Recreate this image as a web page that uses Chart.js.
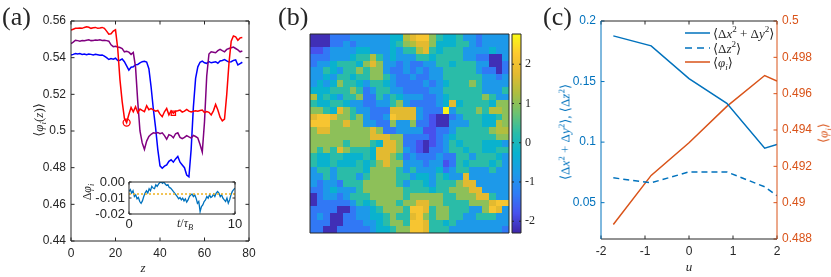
<!DOCTYPE html>
<html>
<head>
<meta charset="utf-8">
<script src="https://cdn.jsdelivr.net/npm/chart.js@4.4.1/dist/chart.umd.min.js"></script>
<style>
  body { margin: 0; background: #fff; }
  #fig { position: relative; width: 831px; height: 277px; overflow: hidden; font-family: "Liberation Serif", "DejaVu Serif", serif; color: #262626; }
  canvas { position: absolute; }
  .txt { position: absolute; white-space: nowrap; line-height: 1; }
  .rot { transform: translate(-50%, -50%) rotate(-90deg); }
  .mid { transform: translate(-50%, -50%); }
  .leg { transform: translateY(-50%); font-size: 13px; }
  .panel { font-size: 26px; }
  sub, sup { font-size: 70%; line-height: 0; }
</style>
</head>
<body>
<div id="fig">
  <canvas id="chartA" width="262" height="277" style="left:0;top:0"></canvas>
  <canvas id="inset" width="160" height="60" style="left:85px;top:176px"></canvas>
  <canvas id="heat" width="201" height="201" style="left:309px;top:33px"></canvas>
  <canvas id="cbar" width="44" height="207" style="left:508px;top:30px"></canvas>
  <canvas id="chartC" width="271" height="277" style="left:560px;top:0"></canvas>

  <div class="txt panel" style="left:2px;top:4px">(a)</div>
  <div class="txt panel" style="left:278px;top:4px">(b)</div>
  <div class="txt panel" style="left:543px;top:4px">(c)</div>

  <div class="txt mid" style="left:143px;top:267px;font-size:13px"><i>z</i></div>
  <div class="txt rot" style="left:38px;top:120px;font-size:13px">⟨<i>φ</i><sub><i>i</i></sub>(<i>z</i>)⟩</div>
  <div class="txt rot" style="left:87px;top:192px;font-size:12px">Δ<i>φ</i><sub><i>i</i></sub></div>
  <div class="txt mid" style="left:185px;top:223px;font-size:12px"><i>t</i>/<i>τ</i><sub><i>B</i></sub></div>

  <div class="txt mid" style="left:689px;top:266px;font-size:13px"><i>u</i></div>
  <div class="txt rot" style="left:565px;top:132px;font-size:13px;color:#0072BD">⟨Δ<i>x</i><sup>2</sup> + Δ<i>y</i><sup>2</sup>⟩, ⟨Δ<i>z</i><sup>2</sup>⟩</div>
  <div class="txt rot" style="left:823px;top:133px;font-size:13px;color:#D95319">⟨<i>φ</i><sub><i>i</i></sub>⟩</div>

  <svg style="position:absolute;left:685px;top:26px" width="26" height="42">
    <line x1="0" y1="7" x2="25" y2="7" stroke="#0072BD" stroke-width="1.5"/>
    <line x1="0" y1="22" x2="25" y2="22" stroke="#0072BD" stroke-width="1.5" stroke-dasharray="7,5"/>
    <line x1="0" y1="36" x2="25" y2="36" stroke="#D95319" stroke-width="1.5"/>
  </svg>
  <div class="txt leg" style="left:713px;top:33px">⟨Δ<i>x</i><sup>2</sup> + Δ<i>y</i><sup>2</sup>⟩</div>
  <div class="txt leg" style="left:713px;top:48px">⟨Δ<i>z</i><sup>2</sup>⟩</div>
  <div class="txt leg" style="left:713px;top:62px">⟨<i>φ</i><sub><i>i</i></sub>⟩</div>
</div>

<script>
// ---- panel (a): <phi_i(z)> profiles, one value per unit of z
const zPos = Array.from({ length: 78 }, (_, i) => i);
const redPhi = [
  0.555, 0.5555, 0.556, 0.556, 0.5562, 0.556, 0.5565, 0.5568, 0.5566, 0.556,
  0.5563, 0.5565, 0.556, 0.5562, 0.5565, 0.556, 0.5545, 0.5528, 0.553, 0.5545,
  0.5552, 0.545, 0.528, 0.516, 0.507, 0.5046, 0.509, 0.5128, 0.5105, 0.5132,
  0.51, 0.512, 0.5112, 0.5105, 0.5138, 0.5116, 0.5122, 0.5115, 0.5108, 0.5112,
  0.5092, 0.5078, 0.5105, 0.5123, 0.5088, 0.511, 0.5097, 0.5108, 0.511, 0.5114,
  0.5103, 0.5108, 0.5118, 0.5108, 0.5104, 0.5108, 0.511, 0.5108, 0.5112, 0.5114,
  0.51, 0.5106, 0.5102, 0.5088, 0.511, 0.5145, 0.5115, 0.5075, 0.5055, 0.5065,
  0.52, 0.537, 0.549, 0.5518, 0.5514, 0.5495, 0.5508, 0.551
];
const purplePhi = [
  0.5476, 0.5485, 0.5495, 0.5493, 0.549, 0.5494, 0.5492, 0.5495, 0.5497, 0.5493,
  0.5494, 0.5496, 0.5495, 0.5497, 0.5494, 0.5495, 0.5493, 0.549, 0.547, 0.546,
  0.5462, 0.5458, 0.5455, 0.545, 0.5432, 0.5435, 0.543, 0.5418, 0.5428, 0.535,
  0.516, 0.5, 0.4935, 0.49, 0.4945, 0.497, 0.4982, 0.499, 0.4988, 0.4992,
  0.4985, 0.499, 0.4975, 0.4955, 0.498, 0.4975, 0.4963, 0.4985, 0.499, 0.4965,
  0.4958, 0.4965, 0.4975, 0.4968, 0.4962, 0.4976, 0.497, 0.4962, 0.4926, 0.4885,
  0.505, 0.53, 0.542, 0.5432, 0.543, 0.5427, 0.5438, 0.5445, 0.5438, 0.5432,
  0.5445, 0.545, 0.5454, 0.5458, 0.545, 0.5442, 0.5432, 0.5436
];
const bluePhi = [
  0.5414, 0.5418, 0.5423, 0.542, 0.5422, 0.5418, 0.542, 0.5416, 0.542, 0.5418,
  0.5415, 0.5418, 0.5416, 0.5413, 0.5415, 0.5408, 0.54, 0.539, 0.5395, 0.5392,
  0.5397, 0.5385, 0.5386, 0.5393, 0.5378, 0.5355, 0.5332, 0.5348, 0.535, 0.5362,
  0.5363, 0.5372, 0.5378, 0.538, 0.5376, 0.534, 0.524, 0.512, 0.502, 0.49,
  0.481, 0.4797, 0.4808, 0.4815, 0.4835, 0.4843, 0.483, 0.4848, 0.4861, 0.483,
  0.4815, 0.48, 0.476, 0.475, 0.49, 0.513, 0.5287, 0.535, 0.5375, 0.5381,
  0.5372, 0.5369, 0.5378, 0.5372, 0.5375, 0.5378, 0.537, 0.5382, 0.5385, 0.539,
  0.5382, 0.5376, 0.5378, 0.5385, 0.5388, 0.536, 0.5368, 0.5375
];
const circleMark = [{ x: 25, y: 0.5046 }];
const squareMark = [{ x: 46, y: 0.5097 }];
const zTicks = [0, 20, 40, 60, 80];
const phiTicks = [0.44, 0.46, 0.48, 0.5, 0.52, 0.54, 0.56];

// ---- inset: delta phi_i over t / tau_B
const insetDphi = [
  -0.0059, -0.0048, -0.0069, -0.0055, -0.0091, -0.0080, -0.0105, -0.0097, -0.0122, -0.0133,
  -0.0118, -0.0091, -0.0069, -0.0055, -0.0069, -0.0042, -0.0055, -0.0027, -0.0038, -0.0042,
  -0.0017, -0.0027, -0.0013, -0.0004, 0.0, -0.0008, 0.0, -0.0013, -0.0021, -0.0017,
  -0.0034, -0.0038, -0.0048, -0.0059, -0.0069, -0.0080, -0.0091, -0.0105, -0.0097, -0.0112,
  -0.0101, -0.0118, -0.0105, -0.0126, -0.0112, -0.0091, -0.0080, -0.0076, -0.0091, -0.0080,
  -0.0101, -0.0133, -0.0122, -0.0185, -0.0154, -0.0143, -0.0122, -0.0112, -0.0091, -0.0101,
  -0.0080, -0.0097, -0.0091, -0.0076, -0.0091, -0.0069, -0.0059, -0.0069, -0.0091, -0.0080,
  -0.0101, -0.0112, -0.0122, -0.0101, -0.0133, -0.0112, -0.0080, -0.0059, -0.0048, -0.0038
];
const insetT = insetDphi.map((_, i) => i * 10 / (insetDphi.length - 1));
const insetMean = -0.0075;
const insetTTicks = [0, 10];
const insetYTicks = [-0.02, -0.01, 0];

// ---- panel (b): 30 x 30 field, one character per cell (key in levelValues)
const levelValues = { '0': -2.2, '1': -1.8, '2': -1.35, '3': -0.8, '4': -0.25, '5': 0.25,
  '6': 1.0, '7': 1.3, '8': 1.75, '9': 2.15, 'Y': 2.7 };
const heatRows = [
  '000222333333447899654453323333',
  '000223233333456788644455323333',
  '112333344333435578545553333433',
  '222333455753433355455553322003',
  '233455546863323223355455533002',
  '335435565663223232335555532202',
  '334355455665322322335555553323',
  '343465543554322223234555653333',
  '444555652355332222335555553335',
  '745435562253543332234555556533',
  '544554332233563222234845555466',
  '66548653322288883222Y355565776',
  '899866563223988832100235554456',
  '999668663322633622100333554476',
  '688666666862233331122355555677',
  '666666666888662222123455555566',
  '666665666548862210123545554443',
  '656586555488863210223554554455',
  '544554445488652322232255355543',
  '544544454568663332331254555453',
  '355355554666653533342355333533',
  '335355535666655344354338333333',
  '323325556666653554355568833333',
  '223433356666665555455666883333',
  '023323555666665666665566688533',
  '022222354566656688665555666899',
  '222200233456665998566555336983',
  '232002233445655896566553355533',
  '222002223345665998554533333333',
  '220022222344566998555333333332'
];
const cbarMin = -2.3, cbarMax = 2.77;
const cbarTicks = [-2, -1, 0, 1, 2];

// ---- panel (c)
const uVals = [-1.72, -0.86, 0, 0.86, 1.72, 2];
const msdXY = [0.1877, 0.1795, 0.1525, 0.132, 0.095, 0.098];
const msdZ = [0.0705, 0.0664, 0.0754, 0.0754, 0.0631, 0.0557];
const phiMean = [0.4888, 0.4915, 0.4933, 0.4953, 0.497, 0.4967];
const uTicks = [-2, -1, 0, 1, 2];
const msdTicks = [0.05, 0.1, 0.15, 0.2];
const phiMeanTicks = [0.488, 0.49, 0.492, 0.494, 0.496, 0.498, 0.5];

// ---------------------------------------------------------------
const GRAY = '#262626';
const BLUE = '#0072BD';
const ORANGE = '#D95319';
const sansFont = { family: "'Liberation Sans', Arial, sans-serif", size: 12 };
const insetFont = { family: sansFont.family, size: 13 };
const serifFont = { family: "'Liberation Serif', 'Times New Roman', serif", size: 12 };
Chart.defaults.font.family = sansFont.family;

const pairs = (xs, ys) => xs.map((x, i) => ({ x, y: ys[i] }));
const fixTicks = vals => s => { s.ticks = vals.map(v => ({ value: v })); };
const fitBox = size => s => {
  if (s.isHorizontal()) s.height = size; else s.width = size;
  s.paddingLeft = s.paddingRight = s.paddingTop = s.paddingBottom = 0;
};
const noGrid = { display: false, drawTicks: false };
const noBorder = { display: false };
const tickOpts = (font, color, padding, extra) =>
  ({ font, color, padding, autoSkip: false, maxRotation: 0, ...extra });

const parulaStops = [[62, 38, 168], [71, 82, 238], [46, 126, 246], [28, 154, 232], [8, 178, 208],
  [40, 188, 170], [108, 194, 114], [172, 190, 64], [228, 186, 48], [253, 200, 49], [249, 251, 21]];
function parula(t) {
  t = Math.min(1, Math.max(0, t)) * (parulaStops.length - 1);
  const i = Math.min(Math.floor(t), parulaStops.length - 2), f = t - i;
  const a = parulaStops[i], b = parulaStops[i + 1];
  return 'rgb(' + a.map((c, k) => Math.round(c + (b[k] - c) * f)).join(',') + ')';
}

// box around the axes plus inward tick marks, MATLAB style
const frame = {
  id: 'frame',
  afterDatasetsDraw(chart, args, o) {
    if (!o.edges) return;
    const { ctx, chartArea: a } = chart;
    const len = o.len || 3.5;
    ctx.save();
    ctx.lineWidth = 1;
    (o.ticks || []).forEach(t => {
      const s = chart.scales[t.scale];
      ctx.strokeStyle = t.color;
      ctx.beginPath();
      s.ticks.forEach(k => {
        const p = s.getPixelForValue(k.value);
        if (s.isHorizontal()) {
          ctx.moveTo(p, a.bottom); ctx.lineTo(p, a.bottom - len);
          ctx.moveTo(p, a.top); ctx.lineTo(p, a.top + len);
        } else {
          t.sides.forEach(side => {
            const x0 = side === 'left' ? a.left : a.right;
            ctx.moveTo(x0, p); ctx.lineTo(x0 + (side === 'left' ? len : -len), p);
          });
        }
      });
      ctx.stroke();
    });
    const seg = (c, x1, y1, x2, y2) => {
      ctx.strokeStyle = c; ctx.beginPath(); ctx.moveTo(x1, y1); ctx.lineTo(x2, y2); ctx.stroke();
    };
    const e = o.edges;
    seg(e.top, a.left, a.top, a.right, a.top);
    seg(e.bottom, a.left, a.bottom, a.right, a.bottom);
    seg(e.left, a.left, a.top, a.left, a.bottom);
    seg(e.right, a.right, a.top, a.right, a.bottom);
    ctx.restore();
  }
};

const whiteArea = {
  id: 'whiteArea',
  beforeDraw(chart) {
    const { ctx, chartArea: a } = chart;
    ctx.save(); ctx.fillStyle = '#fff';
    ctx.fillRect(a.left, a.top, a.right - a.left, a.bottom - a.top);
    ctx.restore();
  }
};

const grayEdges = { top: GRAY, bottom: GRAY, left: GRAY, right: GRAY };
const base = { responsive: false, animation: false, events: [],
  plugins: { legend: { display: false }, tooltip: { enabled: false } } };

// ---- chart (a)
const lineSet = (data, color) => ({ data, borderColor: color, borderWidth: 1.5,
  pointRadius: 0, fill: false, tension: 0 });

new Chart(document.getElementById('chartA'), {
  type: 'line',
  data: {
    datasets: [
      { data: circleMark, pointStyle: 'circle', pointRadius: 3.5, borderColor: '#ff0000',
        backgroundColor: 'rgba(0,0,0,0)', borderWidth: 1.3, showLine: false },
      { data: squareMark, pointStyle: 'rect', pointRadius: 3, borderColor: '#ff0000',
        backgroundColor: 'rgba(0,0,0,0)', borderWidth: 1.3, showLine: false },
      lineSet(pairs(zPos, redPhi), '#ff0000'),
      lineSet(pairs(zPos, purplePhi), '#800080'),
      lineSet(pairs(zPos, bluePhi), '#0000ff')
    ]
  },
  options: { ...base,
    layout: { padding: { top: 21, right: 13, left: 0, bottom: 0 } },
    scales: {
      x: { type: 'linear', min: 0, max: 80, afterBuildTicks: fixTicks(zTicks), afterFit: fitBox(36),
        grid: noGrid, border: noBorder, ticks: tickOpts(sansFont, GRAY, 5) },
      y: { min: 0.44, max: 0.56, afterBuildTicks: fixTicks(phiTicks), afterFit: fitBox(71),
        grid: noGrid, border: noBorder,
        ticks: tickOpts(sansFont, GRAY, 5, { callback: v => String(+v.toFixed(2)) }) }
    },
    plugins: { ...base.plugins, frame: { edges: grayEdges,
      ticks: [{ scale: 'x', color: GRAY }, { scale: 'y', color: GRAY, sides: ['left', 'right'] }] } }
  },
  plugins: [frame]
});

// ---- inset
new Chart(document.getElementById('inset'), {
  type: 'line',
  data: {
    datasets: [
      { data: [{ x: 0, y: insetMean }, { x: 10, y: insetMean }], borderColor: '#EDB120',
        borderWidth: 1.5, borderDash: [2, 2], pointRadius: 0 },
      { data: pairs(insetT, insetDphi), borderColor: BLUE, borderWidth: 1.3, pointRadius: 0, tension: 0 }
    ]
  },
  options: { ...base,
    layout: { padding: { top: 6, right: 10, left: 0, bottom: 0 } },
    scales: {
      x: { type: 'linear', min: 0, max: 10, afterBuildTicks: fixTicks(insetTTicks), afterFit: fitBox(22),
        grid: noGrid, border: noBorder, ticks: tickOpts(insetFont, GRAY, 3) },
      y: { min: -0.02, max: 0, afterBuildTicks: fixTicks(insetYTicks), afterFit: fitBox(44),
        grid: noGrid, border: noBorder,
        ticks: tickOpts(insetFont, GRAY, 4, { callback: v => v.toFixed(2) }) }
    },
    plugins: { ...base.plugins, frame: { edges: grayEdges, len: 2.5,
      ticks: [{ scale: 'x', color: GRAY }, { scale: 'y', color: GRAY, sides: ['left', 'right'] }] } }
  },
  plugins: [whiteArea, frame]
});

// ---- heat map (b)
const cells = [];
heatRows.forEach((row, i) => row.split('').forEach((ch, j) => cells.push({ x: j, y: i, v: levelValues[ch] })));

const heatPaint = {
  id: 'heatPaint',
  beforeDatasetsDraw(chart) {
    const { ctx, scales: { x, y } } = chart;
    ctx.save();
    chart.data.datasets[0].data.forEach(c => {
      const x0 = Math.round(x.getPixelForValue(c.x)), x1 = Math.round(x.getPixelForValue(c.x + 1));
      const y0 = Math.round(y.getPixelForValue(c.y)), y1 = Math.round(y.getPixelForValue(c.y + 1));
      ctx.fillStyle = parula((c.v - cbarMin) / (cbarMax - cbarMin));
      ctx.fillRect(Math.min(x0, x1), Math.min(y0, y1), Math.abs(x1 - x0), Math.abs(y1 - y0));
    });
    ctx.restore();
  }
};

new Chart(document.getElementById('heat'), {
  type: 'scatter',
  data: { datasets: [{ data: cells, pointRadius: 0 }] },
  options: { ...base,
    layout: { padding: 1 },
    scales: {
      x: { type: 'linear', min: 0, max: heatRows[0].length, display: false },
      y: { type: 'linear', min: 0, max: heatRows.length, reverse: true, display: false }
    },
    plugins: { ...base.plugins, frame: { edges: grayEdges } }
  },
  plugins: [heatPaint, frame]
});

// ---- colour bar
const cbarPaint = {
  id: 'cbarPaint',
  beforeDatasetsDraw(chart) {
    const { ctx, chartArea: a, scales: { y } } = chart;
    ctx.save();
    for (let py = Math.floor(a.top); py < a.bottom; py++) {
      ctx.fillStyle = parula((y.getValueForPixel(py + 0.5) - cbarMin) / (cbarMax - cbarMin));
      ctx.fillRect(a.left, py, a.right - a.left, 1);
    }
    ctx.restore();
  }
};

new Chart(document.getElementById('cbar'), {
  type: 'scatter',
  data: { datasets: [{ data: [] }] },
  options: { ...base,
    layout: { padding: { top: 4, bottom: 4, left: 4, right: 0 } },
    scales: {
      x: { type: 'linear', min: 0, max: 1, display: false },
      y: { position: 'right', min: cbarMin, max: cbarMax, afterBuildTicks: fixTicks(cbarTicks),
        afterFit: fitBox(31), grid: noGrid, border: noBorder,
        ticks: tickOpts(serifFont, GRAY, 4) }
    },
    plugins: { ...base.plugins, frame: { edges: grayEdges, len: 2,
      ticks: [{ scale: 'y', color: GRAY, sides: ['left', 'right'] }] } }
  },
  plugins: [cbarPaint, frame]
});

// ---- chart (c)
new Chart(document.getElementById('chartC'), {
  type: 'line',
  data: {
    datasets: [
      { data: pairs(uVals, msdXY), yAxisID: 'y', borderColor: BLUE, borderWidth: 1.5, pointRadius: 0 },
      { data: pairs(uVals, msdZ), yAxisID: 'y', borderColor: BLUE, borderWidth: 1.5, borderDash: [6, 4], pointRadius: 0 },
      { data: pairs(uVals, phiMean), yAxisID: 'y2', borderColor: ORANGE, borderWidth: 1.5, pointRadius: 0 }
    ]
  },
  options: { ...base,
    layout: { padding: { top: 21, right: 0, left: 0, bottom: 0 } },
    scales: {
      x: { type: 'linear', min: -2, max: 2, afterBuildTicks: fixTicks(uTicks), afterFit: fitBox(38),
        grid: noGrid, border: noBorder, ticks: tickOpts(sansFont, GRAY, 5) },
      y: { position: 'left', min: 0.02, max: 0.2, afterBuildTicks: fixTicks(msdTicks), afterFit: fitBox(41),
        grid: noGrid, border: noBorder,
        ticks: tickOpts(sansFont, BLUE, 5, { callback: v => String(+v.toFixed(2)) }) },
      y2: { position: 'right', min: 0.488, max: 0.5, afterBuildTicks: fixTicks(phiMeanTicks), afterFit: fitBox(54),
        grid: noGrid, border: noBorder,
        ticks: tickOpts(sansFont, ORANGE, 5, { callback: v => String(+v.toFixed(3)) }) }
    },
    plugins: { ...base.plugins, frame: { edges: { top: GRAY, bottom: GRAY, left: BLUE, right: ORANGE },
      ticks: [{ scale: 'x', color: GRAY }, { scale: 'y', color: BLUE, sides: ['left'] },
        { scale: 'y2', color: ORANGE, sides: ['right'] }] } }
  },
  plugins: [frame]
});
</script>
</body>
</html>
